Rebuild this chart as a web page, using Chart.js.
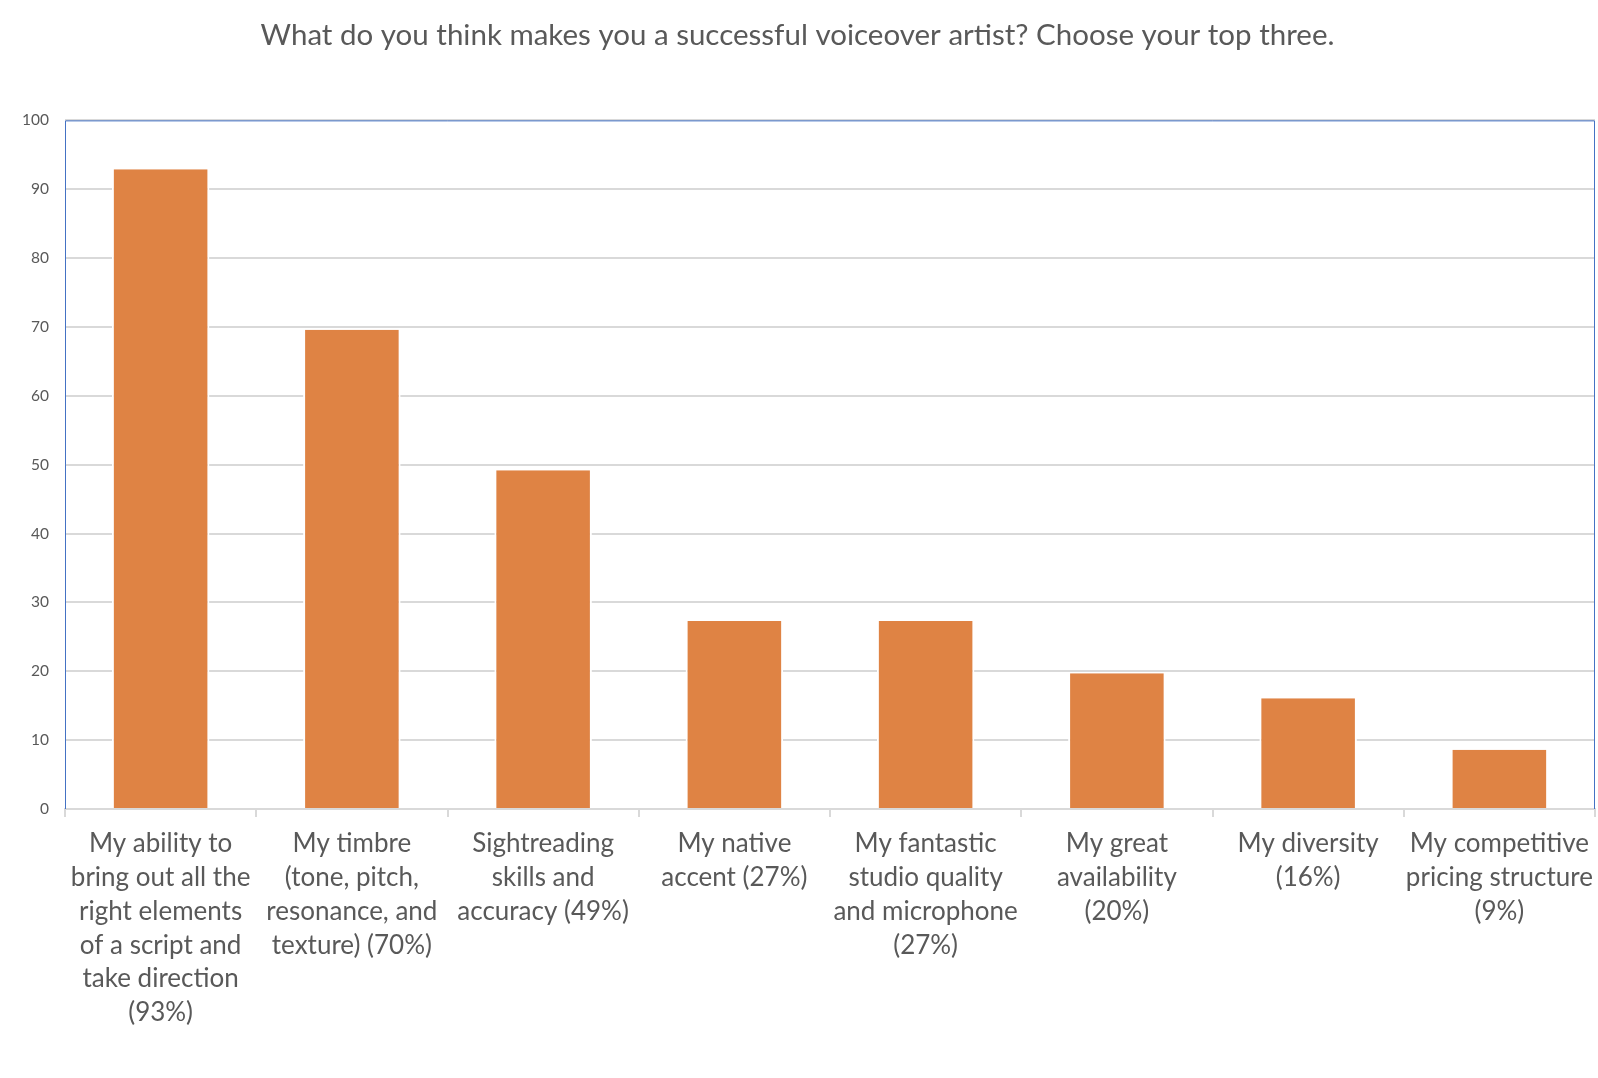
<!DOCTYPE html>
<html>
<head>
<meta charset="utf-8">
<script src="https://cdn.jsdelivr.net/npm/chart.js@4"></script>
<style>
html,body{margin:0;padding:0;background:#fff;}
#wrap{width:1598px;height:1078px;position:relative;}
</style>
</head>
<body>
<div id="wrap"><canvas id="c"></canvas></div>
<script>
const chartTitle = "What do you think makes you a successful voiceover artist? Choose your top three.";
const categories = [
  ["My ability to", "bring out all the", "right elements", "of a script and", "take direction", "(93%)"],
  ["My timbre", "(tone, pitch,", "resonance, and", "texture) (70%)"],
  ["Sightreading", "skills and", "accuracy (49%)"],
  ["My native", "accent (27%)"],
  ["My fantastic", "studio quality", "and microphone", "(27%)"],
  ["My great", "availability", "(20%)"],
  ["My diversity", "(16%)"],
  ["My competitive", "pricing structure", "(9%)"]
];
const values = [92.9, 69.6, 49.2, 27.3, 27.3, 19.7, 16.1, 8.6];
const yTicks = [0, 10, 20, 30, 40, 50, 60, 70, 80, 90, 100];

const frame = {
  id: 'frame',
  afterDatasetsDraw(chart) {
    const a = chart.chartArea, ctx = chart.ctx;
    ctx.save();
    ctx.strokeStyle = '#4472C4';
    ctx.lineWidth = 1;
    ctx.beginPath();
    ctx.moveTo(a.left + 0.5, a.bottom);
    ctx.lineTo(a.left + 0.5, a.top + 0.5);
    ctx.lineTo(a.right - 0.5, a.top + 0.5);
    ctx.lineTo(a.right - 0.5, a.bottom);
    ctx.stroke();
    ctx.restore();
  }
};

new Chart(document.getElementById('c'), {
  type: 'bar',
  data: {
    labels: categories,
    datasets: [{
      data: values,
      backgroundColor: '#DF8344',
      borderColor: '#ffffff',
      borderWidth: {left: 2, right: 2, top: 0, bottom: 0},
      borderSkipped: false,
      barPercentage: 0.51,
      categoryPercentage: 1.0
    }]
  },
  options: {
    responsive: true,
    maintainAspectRatio: false,
    animation: false,
    layout: {padding: {top: 0, right: 3, bottom: 0, left: 0}},
    plugins: {
      legend: {display: false},
      tooltip: {enabled: false},
      title: {
        display: true,
        text: chartTitle,
        color: '#595959',
        font: {family: 'Lato, "Open Sans", sans-serif', size: 29.5, weight: 'normal'},
        padding: {top: 18, bottom: 67}
      }
    },
    scales: {
      x: {
        grid: {display: true, offset: true, drawOnChartArea: false, drawTicks: true, tickLength: 8, color: '#d9d9d9', lineWidth: 2},
        border: {display: true, color: '#d9d9d9', width: 2},
        ticks: {
          color: '#595959',
          font: {family: 'Lato, "Open Sans", sans-serif', size: 26, lineHeight: 1.3},
          maxRotation: 0, minRotation: 0, autoSkip: false, padding: 10
        },
        afterFit(scale) { scale.height = 269; scale.paddingLeft = 0; scale.paddingRight = 0; }
      },
      y: {
        min: 0, max: 100,
        afterBuildTicks(scale) { scale.ticks = yTicks.map(v => ({value: v})); },
        grid: {color: '#d9d9d9', lineWidth: 2, drawTicks: false},
        border: {display: false},
        ticks: {
          color: '#595959',
          font: {family: 'Lato, "Open Sans", sans-serif', size: 15.5},
          padding: 16
        },
        afterFit(scale) { scale.width = 65; scale.paddingTop = 0; scale.paddingBottom = 0; }
      }
    }
  },
  plugins: [frame]
});
</script>
</body>
</html>
